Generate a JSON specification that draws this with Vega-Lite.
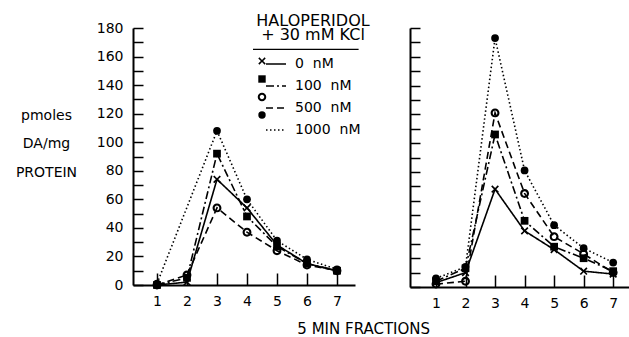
{
  "$schema": "https://vega.github.io/schema/vega-lite/v6.json",
  "background": "white",
  "padding": {"left": 15, "top": 13, "right": 0, "bottom": 0},
  "config": {
    "font": "DejaVu Sans",
    "view": {"stroke": null},
    "axis": {"domainColor": "black", "domainWidth": 2, "ticks": true, "tickColor": "black", "tickWidth": 1.5, "grid": false, "labelColor": "black", "labelFont": "DejaVu Sans", "labelFontSize": 14, "labelOverlap": false, "titleColor": "black", "titleFont": "DejaVu Sans", "titleFontSize": 14, "titleFontWeight": "normal"},
    "legend": {"labelColor": "black", "labelFont": "DejaVu Sans", "labelFontSize": 14, "titleColor": "black", "titleFont": "DejaVu Sans"}
  },
  "title": {"text": "5 MIN FRACTIONS", "orient": "bottom", "anchor": "middle", "font": "DejaVu Sans", "fontSize": 15, "fontWeight": "normal", "color": "black", "offset": 12, "dx": 41},
  "data": {"values": [
    {"panel": "L", "conc": 0, "fraction": 1, "value": 0},
    {"panel": "L", "conc": 0, "fraction": 2, "value": 2},
    {"panel": "L", "conc": 0, "fraction": 3, "value": 74},
    {"panel": "L", "conc": 0, "fraction": 4, "value": 54},
    {"panel": "L", "conc": 0, "fraction": 5, "value": 28},
    {"panel": "L", "conc": 0, "fraction": 6, "value": 15},
    {"panel": "L", "conc": 0, "fraction": 7, "value": 10},
    {"panel": "L", "conc": 100, "fraction": 1, "value": 0},
    {"panel": "L", "conc": 100, "fraction": 2, "value": 5},
    {"panel": "L", "conc": 100, "fraction": 3, "value": 92},
    {"panel": "L", "conc": 100, "fraction": 4, "value": 48},
    {"panel": "L", "conc": 100, "fraction": 5, "value": 27},
    {"panel": "L", "conc": 100, "fraction": 6, "value": 15},
    {"panel": "L", "conc": 100, "fraction": 7, "value": 10},
    {"panel": "L", "conc": 500, "fraction": 1, "value": 0},
    {"panel": "L", "conc": 500, "fraction": 2, "value": 7},
    {"panel": "L", "conc": 500, "fraction": 3, "value": 54},
    {"panel": "L", "conc": 500, "fraction": 4, "value": 37},
    {"panel": "L", "conc": 500, "fraction": 5, "value": 24},
    {"panel": "L", "conc": 500, "fraction": 6, "value": 14},
    {"panel": "L", "conc": 500, "fraction": 7, "value": 10},
    {"panel": "L", "conc": 1000, "fraction": 1, "value": 1},
    {"panel": "L", "conc": 1000, "fraction": 3, "value": 108},
    {"panel": "L", "conc": 1000, "fraction": 4, "value": 60},
    {"panel": "L", "conc": 1000, "fraction": 5, "value": 31},
    {"panel": "L", "conc": 1000, "fraction": 6, "value": 18},
    {"panel": "L", "conc": 1000, "fraction": 7, "value": 11},
    {"panel": "R", "conc": 0, "fraction": 1, "value": 3},
    {"panel": "R", "conc": 0, "fraction": 2, "value": 10},
    {"panel": "R", "conc": 0, "fraction": 3, "value": 68},
    {"panel": "R", "conc": 0, "fraction": 4, "value": 39},
    {"panel": "R", "conc": 0, "fraction": 5, "value": 26},
    {"panel": "R", "conc": 0, "fraction": 6, "value": 11},
    {"panel": "R", "conc": 0, "fraction": 7, "value": 9},
    {"panel": "R", "conc": 100, "fraction": 1, "value": 4},
    {"panel": "R", "conc": 100, "fraction": 2, "value": 13},
    {"panel": "R", "conc": 100, "fraction": 3, "value": 106},
    {"panel": "R", "conc": 100, "fraction": 4, "value": 46},
    {"panel": "R", "conc": 100, "fraction": 5, "value": 28},
    {"panel": "R", "conc": 100, "fraction": 6, "value": 20},
    {"panel": "R", "conc": 100, "fraction": 7, "value": 11},
    {"panel": "R", "conc": 500, "fraction": 1, "value": 2},
    {"panel": "R", "conc": 500, "fraction": 2, "value": 4},
    {"panel": "R", "conc": 500, "fraction": 3, "value": 121},
    {"panel": "R", "conc": 500, "fraction": 4, "value": 65},
    {"panel": "R", "conc": 500, "fraction": 5, "value": 35},
    {"panel": "R", "conc": 500, "fraction": 6, "value": 23},
    {"panel": "R", "conc": 500, "fraction": 7, "value": 10},
    {"panel": "R", "conc": 1000, "fraction": 1, "value": 6},
    {"panel": "R", "conc": 1000, "fraction": 2, "value": 14},
    {"panel": "R", "conc": 1000, "fraction": 3, "value": 173},
    {"panel": "R", "conc": 1000, "fraction": 4, "value": 81},
    {"panel": "R", "conc": 1000, "fraction": 5, "value": 43},
    {"panel": "R", "conc": 1000, "fraction": 6, "value": 27},
    {"panel": "R", "conc": 1000, "fraction": 7, "value": 17}
  ]},
  "spacing": 49,
  "hconcat": [
    {
      "width": 222,
      "height": 257,
      "layer": [
        {
          "transform": [{"filter": "datum.panel == 'L'"}],
          "mark": {"type": "line", "color": "black", "strokeWidth": 1.6},
          "encoding": {
            "x": {"field": "fraction", "type": "quantitative", "scale": {"domain": [0.2, 7.6], "nice": false, "zero": false},
                  "axis": {"orient": "bottom", "values": [1, 2, 3, 4, 5, 6, 7], "tickCount": 50, "format": "d", "tickSize": -12, "labelPadding": 21, "title": null}},
            "y": {"field": "value", "type": "quantitative", "scale": {"domain": [0, 180], "nice": false},
                  "axis": {"orient": "left", "values": [0, 10, 20, 30, 40, 50, 60, 70, 80, 90, 100, 110, 120, 130, 140, 150, 160, 170, 180], "tickCount": 50, "format": "d",
                           "labelExpr": "datum.value % 20 === 0 ? datum.label : ''", "tickSize": -10, "labelPadding": 20,
                           "title": ["pmoles", "DA/mg", "PROTEIN"], "titleAngle": 0, "titleAlign": "center", "titleBaseline": "alphabetic", "titleX": -87, "titleY": 91, "titleLineHeight": 28.5}},
            "strokeDash": {"field": "conc", "type": "ordinal",
                           "scale": {"range": [[1, 0], [8, 3, 2, 3], [7, 4], [1.5, 2.5]]},
                           "legend": {"orient": "none", "legendX": 123, "legendY": -15, "title": ["HALOPERIDOL", "+ 30 mM KCl"], "titleFontSize": 16, "titleFontWeight": "normal", "titleAnchor": "middle", "titleAlign": "center", "titleLineHeight": 14, "titlePadding": 10,
                                      "symbolType": "stroke", "symbolSize": 400, "symbolStrokeColor": "black", "symbolStrokeWidth": 1.6,
                                      "labelExpr": "datum.label + '\u00a0 nM'", "labelFontSize": 14, "labelOffset": 8, "rowPadding": 4}}
          }
        },
        {
          "transform": [{"filter": "datum.panel == 'L'"}],
          "mark": {"type": "point", "filled": true, "color": "black", "size": 60, "opacity": 1},
          "encoding": {
            "x": {"field": "fraction", "type": "quantitative"},
            "y": {"field": "value", "type": "quantitative"},
            "shape": {"field": "conc", "type": "ordinal",
                      "scale": {"domain": [0, 100, 500, 1000], "range": ["M-1,-0.7L-0.7,-1L0,-0.3L0.7,-1L1,-0.7L0.3,0L1,0.7L0.7,1L0,0.3L-0.7,1L-1,0.7L-0.3,0Z", "square", "M-1.15,0A1.15,1.15,0,1,1,1.15,0A1.15,1.15,0,1,1,-1.15,0ZM-0.6,0A0.6,0.6,0,1,0,0.6,0A0.6,0.6,0,1,0,-0.6,0Z", "circle"]},
                      "legend": {"orient": "none", "legendX": 122, "legendY": 26, "title": null, "labelExpr": "datum.label + '\u00a0 nM'", "labelOpacity": 0, "symbolSize": 55, "symbolFillColor": "black", "symbolStrokeWidth": 0, "rowPadding": 4, "labelFontSize": 14}}
          }
        },
        {
          "data": {"values": [{}]},
          "mark": {"type": "rule", "color": "black", "strokeWidth": 1.2},
          "encoding": {
            "x": {"datum": 4.2, "type": "quantitative"},
            "x2": {"datum": 7.72},
            "y": {"datum": 165, "type": "quantitative"}
          }
        }
      ]
    },
    {
      "width": 220,
      "height": 259,
      "transform": [{"filter": "datum.panel == 'R'"}],
      "layer": [
        {
          "mark": {"type": "line", "color": "black", "strokeWidth": 1.6},
          "encoding": {
            "x": {"field": "fraction", "type": "quantitative", "scale": {"domain": [0.12, 7.57], "nice": false, "zero": false},
                  "axis": {"orient": "bottom", "values": [1, 2, 3, 4, 5, 6, 7], "tickCount": 50, "format": "d", "tickSize": -12, "labelPadding": 21, "title": null}},
            "y": {"field": "value", "type": "quantitative", "scale": {"domain": [0, 180], "nice": false},
                  "axis": {"orient": "left", "values": [0, 10, 20, 30, 40, 50, 60, 70, 80, 90, 100, 110, 120, 130, 140, 150, 160, 170, 180], "tickCount": 50,
                           "labels": false, "tickSize": -10, "title": null}},
            "strokeDash": {"field": "conc", "type": "ordinal"}
          }
        },
        {
          "mark": {"type": "point", "filled": true, "color": "black", "size": 60, "opacity": 1},
          "encoding": {
            "x": {"field": "fraction", "type": "quantitative"},
            "y": {"field": "value", "type": "quantitative"},
            "shape": {"field": "conc", "type": "ordinal"}
          }
        }
      ]
    }
  ]
}
